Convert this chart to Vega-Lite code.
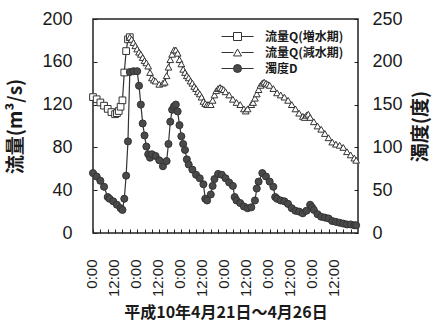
{
  "$schema": "https://vega.github.io/schema/vega-lite/v6.json",
  "width": 265,
  "height": 214,
  "autosize": {"type": "none"},
  "padding": {"left": 93, "top": 19, "right": 74, "bottom": 92},
  "background": "white",
  "config": {
    "view": {"stroke": "#222", "strokeWidth": 1.5},
    "axis": {
      "grid": false, "domain": false, "tickColor": "#222", "tickSize": -4, "tickWidth": 1,
      "labelColor": "#1a1a1a", "titleColor": "#1a1a1a",
      "labelFont": "Liberation Sans", "titleFont": "Noto Sans CJK JP", "titleFontWeight": "bold"
    },
    "legend": {
      "labelFont": "Noto Sans CJK JP", "labelFontWeight": "bold", "labelFontSize": 12, "labelColor": "#1a1a1a"
    }
  },
  "datasets": {
    "flow": [
      {"hour": 0, "series": "流量Q(増水期)", "Q": 127},
      {"hour": 2, "series": "流量Q(増水期)", "Q": 125},
      {"hour": 4, "series": "流量Q(増水期)", "Q": 122},
      {"hour": 6, "series": "流量Q(増水期)", "Q": 119},
      {"hour": 8, "series": "流量Q(増水期)", "Q": 116},
      {"hour": 10, "series": "流量Q(増水期)", "Q": 113},
      {"hour": 12, "series": "流量Q(増水期)", "Q": 111},
      {"hour": 13, "series": "流量Q(増水期)", "Q": 112},
      {"hour": 14, "series": "流量Q(増水期)", "Q": 114},
      {"hour": 15, "series": "流量Q(増水期)", "Q": 118},
      {"hour": 16, "series": "流量Q(増水期)", "Q": 124},
      {"hour": 17, "series": "流量Q(増水期)", "Q": 150},
      {"hour": 18, "series": "流量Q(増水期)", "Q": 170},
      {"hour": 19, "series": "流量Q(増水期)", "Q": 181},
      {"hour": 20, "series": "流量Q(増水期)", "Q": 183},
      {"hour": 20, "series": "流量Q(減水期)", "Q": 183},
      {"hour": 21, "series": "流量Q(減水期)", "Q": 181},
      {"hour": 22, "series": "流量Q(減水期)", "Q": 178},
      {"hour": 23, "series": "流量Q(減水期)", "Q": 175},
      {"hour": 24, "series": "流量Q(減水期)", "Q": 172},
      {"hour": 25, "series": "流量Q(減水期)", "Q": 169},
      {"hour": 26, "series": "流量Q(減水期)", "Q": 167},
      {"hour": 27, "series": "流量Q(減水期)", "Q": 164},
      {"hour": 28, "series": "流量Q(減水期)", "Q": 161},
      {"hour": 29, "series": "流量Q(減水期)", "Q": 159},
      {"hour": 30, "series": "流量Q(減水期)", "Q": 156},
      {"hour": 31, "series": "流量Q(減水期)", "Q": 150},
      {"hour": 32, "series": "流量Q(減水期)", "Q": 145},
      {"hour": 33, "series": "流量Q(減水期)", "Q": 143},
      {"hour": 34, "series": "流量Q(減水期)", "Q": 142},
      {"hour": 36, "series": "流量Q(減水期)", "Q": 139},
      {"hour": 38, "series": "流量Q(減水期)", "Q": 140},
      {"hour": 39, "series": "流量Q(減水期)", "Q": 141},
      {"hour": 40, "series": "流量Q(減水期)", "Q": 147},
      {"hour": 41, "series": "流量Q(減水期)", "Q": 155},
      {"hour": 42, "series": "流量Q(減水期)", "Q": 162},
      {"hour": 43, "series": "流量Q(減水期)", "Q": 167},
      {"hour": 44, "series": "流量Q(減水期)", "Q": 171},
      {"hour": 45, "series": "流量Q(減水期)", "Q": 171},
      {"hour": 46, "series": "流量Q(減水期)", "Q": 168},
      {"hour": 47, "series": "流量Q(減水期)", "Q": 162},
      {"hour": 48, "series": "流量Q(減水期)", "Q": 158},
      {"hour": 49, "series": "流量Q(減水期)", "Q": 153},
      {"hour": 50, "series": "流量Q(減水期)", "Q": 150},
      {"hour": 51, "series": "流量Q(減水期)", "Q": 147},
      {"hour": 52, "series": "流量Q(減水期)", "Q": 145},
      {"hour": 53, "series": "流量Q(減水期)", "Q": 142},
      {"hour": 54, "series": "流量Q(減水期)", "Q": 140},
      {"hour": 55, "series": "流量Q(減水期)", "Q": 137},
      {"hour": 56, "series": "流量Q(減水期)", "Q": 135},
      {"hour": 57, "series": "流量Q(減水期)", "Q": 132},
      {"hour": 58, "series": "流量Q(減水期)", "Q": 130},
      {"hour": 59, "series": "流量Q(減水期)", "Q": 127},
      {"hour": 60, "series": "流量Q(減水期)", "Q": 123},
      {"hour": 61, "series": "流量Q(減水期)", "Q": 121},
      {"hour": 62, "series": "流量Q(減水期)", "Q": 120},
      {"hour": 63, "series": "流量Q(減水期)", "Q": 120},
      {"hour": 64, "series": "流量Q(減水期)", "Q": 120},
      {"hour": 65, "series": "流量Q(減水期)", "Q": 124},
      {"hour": 66, "series": "流量Q(減水期)", "Q": 129},
      {"hour": 67, "series": "流量Q(減水期)", "Q": 133},
      {"hour": 68, "series": "流量Q(減水期)", "Q": 135},
      {"hour": 69, "series": "流量Q(減水期)", "Q": 136},
      {"hour": 70, "series": "流量Q(減水期)", "Q": 135},
      {"hour": 71, "series": "流量Q(減水期)", "Q": 134},
      {"hour": 72, "series": "流量Q(減水期)", "Q": 132},
      {"hour": 74, "series": "流量Q(減水期)", "Q": 129},
      {"hour": 76, "series": "流量Q(減水期)", "Q": 125},
      {"hour": 78, "series": "流量Q(減水期)", "Q": 122},
      {"hour": 80, "series": "流量Q(減水期)", "Q": 120},
      {"hour": 82, "series": "流量Q(減水期)", "Q": 116},
      {"hour": 83, "series": "流量Q(減水期)", "Q": 114},
      {"hour": 84, "series": "流量Q(減水期)", "Q": 116},
      {"hour": 86, "series": "流量Q(減水期)", "Q": 120},
      {"hour": 87, "series": "流量Q(減水期)", "Q": 122},
      {"hour": 88, "series": "流量Q(減水期)", "Q": 126},
      {"hour": 89, "series": "流量Q(減水期)", "Q": 130},
      {"hour": 90, "series": "流量Q(減水期)", "Q": 134},
      {"hour": 91, "series": "流量Q(減水期)", "Q": 138},
      {"hour": 92, "series": "流量Q(減水期)", "Q": 140},
      {"hour": 93, "series": "流量Q(減水期)", "Q": 141},
      {"hour": 94, "series": "流量Q(減水期)", "Q": 140},
      {"hour": 95, "series": "流量Q(減水期)", "Q": 139},
      {"hour": 96, "series": "流量Q(減水期)", "Q": 138},
      {"hour": 98, "series": "流量Q(減水期)", "Q": 135},
      {"hour": 100, "series": "流量Q(減水期)", "Q": 131},
      {"hour": 102, "series": "流量Q(減水期)", "Q": 129},
      {"hour": 104, "series": "流量Q(減水期)", "Q": 127},
      {"hour": 106, "series": "流量Q(減水期)", "Q": 124},
      {"hour": 108, "series": "流量Q(減水期)", "Q": 120},
      {"hour": 110, "series": "流量Q(減水期)", "Q": 116},
      {"hour": 112, "series": "流量Q(減水期)", "Q": 112},
      {"hour": 114, "series": "流量Q(減水期)", "Q": 109},
      {"hour": 115, "series": "流量Q(減水期)", "Q": 108},
      {"hour": 116, "series": "流量Q(減水期)", "Q": 110},
      {"hour": 117, "series": "流量Q(減水期)", "Q": 111},
      {"hour": 118, "series": "流量Q(減水期)", "Q": 108},
      {"hour": 120, "series": "流量Q(減水期)", "Q": 104},
      {"hour": 122, "series": "流量Q(減水期)", "Q": 100},
      {"hour": 124, "series": "流量Q(減水期)", "Q": 97},
      {"hour": 126, "series": "流量Q(減水期)", "Q": 93},
      {"hour": 128, "series": "流量Q(減水期)", "Q": 89},
      {"hour": 130, "series": "流量Q(減水期)", "Q": 85},
      {"hour": 132, "series": "流量Q(減水期)", "Q": 83},
      {"hour": 134, "series": "流量Q(減水期)", "Q": 82},
      {"hour": 136, "series": "流量Q(減水期)", "Q": 80},
      {"hour": 138, "series": "流量Q(減水期)", "Q": 76},
      {"hour": 140, "series": "流量Q(減水期)", "Q": 73},
      {"hour": 142, "series": "流量Q(減水期)", "Q": 70},
      {"hour": 143, "series": "流量Q(減水期)", "Q": 68}
    ],
    "turb": [
      {"hour": 0, "series": "濁度D", "D": 70},
      {"hour": 2, "series": "濁度D", "D": 66},
      {"hour": 4, "series": "濁度D", "D": 61},
      {"hour": 6, "series": "濁度D", "D": 54},
      {"hour": 8, "series": "濁度D", "D": 42},
      {"hour": 9, "series": "濁度D", "D": 40},
      {"hour": 11, "series": "濁度D", "D": 37},
      {"hour": 13, "series": "濁度D", "D": 33},
      {"hour": 15, "series": "濁度D", "D": 29},
      {"hour": 16, "series": "濁度D", "D": 27},
      {"hour": 17, "series": "濁度D", "D": 40},
      {"hour": 18, "series": "濁度D", "D": 67},
      {"hour": 19, "series": "濁度D", "D": 107},
      {"hour": 20, "series": "濁度D", "D": 188},
      {"hour": 22, "series": "濁度D", "D": 189},
      {"hour": 24, "series": "濁度D", "D": 189},
      {"hour": 25, "series": "濁度D", "D": 172},
      {"hour": 26, "series": "濁度D", "D": 150},
      {"hour": 27, "series": "濁度D", "D": 128},
      {"hour": 28, "series": "濁度D", "D": 114},
      {"hour": 29, "series": "濁度D", "D": 101},
      {"hour": 30, "series": "濁度D", "D": 92},
      {"hour": 31, "series": "濁度D", "D": 88},
      {"hour": 32, "series": "濁度D", "D": 92},
      {"hour": 34, "series": "濁度D", "D": 90},
      {"hour": 36, "series": "濁度D", "D": 85},
      {"hour": 38, "series": "濁度D", "D": 78},
      {"hour": 40, "series": "濁度D", "D": 84},
      {"hour": 41, "series": "濁度D", "D": 104},
      {"hour": 42, "series": "濁度D", "D": 130},
      {"hour": 43, "series": "濁度D", "D": 144},
      {"hour": 44, "series": "濁度D", "D": 148},
      {"hour": 45, "series": "濁度D", "D": 150},
      {"hour": 46, "series": "濁度D", "D": 142},
      {"hour": 47, "series": "濁度D", "D": 126},
      {"hour": 48, "series": "濁度D", "D": 113},
      {"hour": 49, "series": "濁度D", "D": 104},
      {"hour": 50, "series": "濁度D", "D": 97},
      {"hour": 51, "series": "濁度D", "D": 86},
      {"hour": 52, "series": "濁度D", "D": 80},
      {"hour": 54, "series": "濁度D", "D": 74},
      {"hour": 56, "series": "濁度D", "D": 68},
      {"hour": 58, "series": "濁度D", "D": 64},
      {"hour": 60, "series": "濁度D", "D": 57},
      {"hour": 61, "series": "濁度D", "D": 40},
      {"hour": 62, "series": "濁度D", "D": 38},
      {"hour": 64, "series": "濁度D", "D": 45},
      {"hour": 65, "series": "濁度D", "D": 55},
      {"hour": 66, "series": "濁度D", "D": 63},
      {"hour": 68, "series": "濁度D", "D": 69},
      {"hour": 70, "series": "濁度D", "D": 68},
      {"hour": 72, "series": "濁度D", "D": 64},
      {"hour": 74, "series": "濁度D", "D": 59},
      {"hour": 76, "series": "濁度D", "D": 55},
      {"hour": 77, "series": "濁度D", "D": 42},
      {"hour": 78, "series": "濁度D", "D": 38},
      {"hour": 80, "series": "濁度D", "D": 35},
      {"hour": 82, "series": "濁度D", "D": 31},
      {"hour": 84, "series": "濁度D", "D": 29},
      {"hour": 86, "series": "濁度D", "D": 30},
      {"hour": 88, "series": "濁度D", "D": 38},
      {"hour": 89, "series": "濁度D", "D": 52},
      {"hour": 90, "series": "濁度D", "D": 60},
      {"hour": 92, "series": "濁度D", "D": 70},
      {"hour": 94, "series": "濁度D", "D": 66},
      {"hour": 96, "series": "濁度D", "D": 60},
      {"hour": 98, "series": "濁度D", "D": 54},
      {"hour": 99, "series": "濁度D", "D": 42},
      {"hour": 100, "series": "濁度D", "D": 40},
      {"hour": 102, "series": "濁度D", "D": 38},
      {"hour": 104, "series": "濁度D", "D": 37},
      {"hour": 106, "series": "濁度D", "D": 34},
      {"hour": 108, "series": "濁度D", "D": 29},
      {"hour": 110, "series": "濁度D", "D": 26},
      {"hour": 112, "series": "濁度D", "D": 25},
      {"hour": 114, "series": "濁度D", "D": 23},
      {"hour": 116, "series": "濁度D", "D": 26},
      {"hour": 118, "series": "濁度D", "D": 33},
      {"hour": 119, "series": "濁度D", "D": 30},
      {"hour": 120, "series": "濁度D", "D": 27},
      {"hour": 122, "series": "濁度D", "D": 22},
      {"hour": 124, "series": "濁度D", "D": 19},
      {"hour": 126, "series": "濁度D", "D": 18},
      {"hour": 128, "series": "濁度D", "D": 17},
      {"hour": 130, "series": "濁度D", "D": 14},
      {"hour": 132, "series": "濁度D", "D": 13},
      {"hour": 134, "series": "濁度D", "D": 12},
      {"hour": 136, "series": "濁度D", "D": 11},
      {"hour": 138, "series": "濁度D", "D": 10},
      {"hour": 140, "series": "濁度D", "D": 10},
      {"hour": 142, "series": "濁度D", "D": 9},
      {"hour": 143, "series": "濁度D", "D": 9}
    ]
  },
  "encoding": {
    "x": {
      "field": "hour", "type": "quantitative",
      "scale": {"domain": [0, 144], "nice": false, "zero": false},
      "axis": {
        "values": [0, 4, 8, 12, 16, 20, 24, 28, 32, 36, 40, 44, 48, 52, 56, 60, 64, 68, 72, 76, 80, 84, 88, 92, 96, 100, 104, 108, 112, 116, 120, 124, 128, 132, 136, 140],
        "labelExpr": "datum.value % 24 == 0 ? '0:00' : (datum.value % 12 == 0 ? '12:00' : '')",
        "labelAngle": -90, "labelFontSize": 15, "labelPadding": 30, "labelOffset": -2,
        "labelOverlap": false, "labelFlush": false,
        "title": "平成10年4月21日～4月26日", "titleFontSize": 16, "titlePadding": 8
      }
    }
  },
  "layer": [
    {
      "data": {"name": "flow"},
      "encoding": {
        "y": {
          "field": "Q", "type": "quantitative",
          "scale": {"domain": [0, 200], "nice": false},
          "axis": {
            "orient": "left", "values": [0, 40, 80, 120, 160, 200],
            "labelFontSize": 18, "labelPadding": 25,
            "title": "流量(m³/s)", "titleFontSize": 19, "titleX": -78, "titleBaseline": "middle"
          }
        }
      },
      "layer": [
        {
          "mark": {"type": "line", "strokeWidth": 1.2},
          "encoding": {
            "color": {
              "field": "series", "type": "nominal",
              "scale": {"range": ["#333", "#333", "#333"]},
              "legend": {
                "title": null, "orient": "none", "legendX": 138.5, "legendY": 11.5, "padding": 0,
                "symbolType": "M-4,0H-1M1,0H4", "symbolSize": 64, "symbolStrokeWidth": 1,
                "labelOffset": 21.5, "rowPadding": 4, "labelColor": "rgba(0,0,0,0)"
              }
            }
          }
        },
        {
          "mark": {"type": "point", "filled": true, "strokeWidth": 1, "opacity": 1, "size": 45},
          "encoding": {
            "stroke": {
              "field": "series", "type": "nominal",
              "scale": {"domain": ["流量Q(増水期)", "流量Q(減水期)", "濁度D"], "range": ["#333", "#333", "#333"]},
              "legend": {
                "title": null, "orient": "none", "legendX": 138.5, "legendY": 11.5, "padding": 0,
                "symbolSize": 64, "labelOffset": 21.5, "rowPadding": 4, "symbolStrokeWidth": 1, "symbolOpacity": 1
              }
            },
            "shape": {
              "field": "series", "type": "nominal",
              "scale": {"domain": ["流量Q(増水期)", "流量Q(減水期)", "濁度D"], "range": ["square", "triangle-up", "circle"]},
              "legend": {
                "title": null, "orient": "none", "legendX": 138.5, "legendY": 11.5, "padding": 0,
                "symbolSize": 64, "labelOffset": 21.5, "rowPadding": 4, "symbolStrokeWidth": 1, "symbolOpacity": 1
              }
            },
            "fill": {
              "field": "series", "type": "nominal",
              "scale": {"domain": ["流量Q(増水期)", "流量Q(減水期)", "濁度D"], "range": ["white", "white", "#4a4a4a"]},
              "legend": {
                "title": null, "orient": "none", "legendX": 138.5, "legendY": 11.5, "padding": 0,
                "symbolSize": 64, "labelOffset": 21.5, "rowPadding": 4, "symbolStrokeWidth": 1, "symbolOpacity": 1
              }
            }
          }
        }
      ]
    },
    {
      "data": {"name": "turb"},
      "encoding": {
        "y": {
          "field": "D", "type": "quantitative",
          "scale": {"domain": [0, 250], "nice": false},
          "axis": {
            "orient": "right", "values": [0, 50, 100, 150, 200, 250],
            "labelFontSize": 18, "labelPadding": 18,
            "title": "濁度(度)", "titleFontSize": 19, "titleAngle": 270, "titleX": 62, "titleBaseline": "middle"
          }
        }
      },
      "layer": [
        {
          "mark": {"type": "line", "strokeWidth": 1.2},
          "encoding": {"color": {"field": "series", "type": "nominal"}}
        },
        {
          "mark": {"type": "point", "filled": true, "strokeWidth": 1, "opacity": 1, "size": 50},
          "encoding": {
            "stroke": {
              "field": "series", "type": "nominal",
              "scale": {"domain": ["流量Q(増水期)", "流量Q(減水期)", "濁度D"], "range": ["#333", "#333", "#333"]}
            },
            "shape": {
              "field": "series", "type": "nominal",
              "scale": {"domain": ["流量Q(増水期)", "流量Q(減水期)", "濁度D"], "range": ["square", "triangle-up", "circle"]}
            },
            "fill": {
              "field": "series", "type": "nominal",
              "scale": {"domain": ["流量Q(増水期)", "流量Q(減水期)", "濁度D"], "range": ["white", "white", "#4a4a4a"]}
            }
          }
        }
      ]
    }
  ],
  "resolve": {"scale": {"y": "independent"}}
}
